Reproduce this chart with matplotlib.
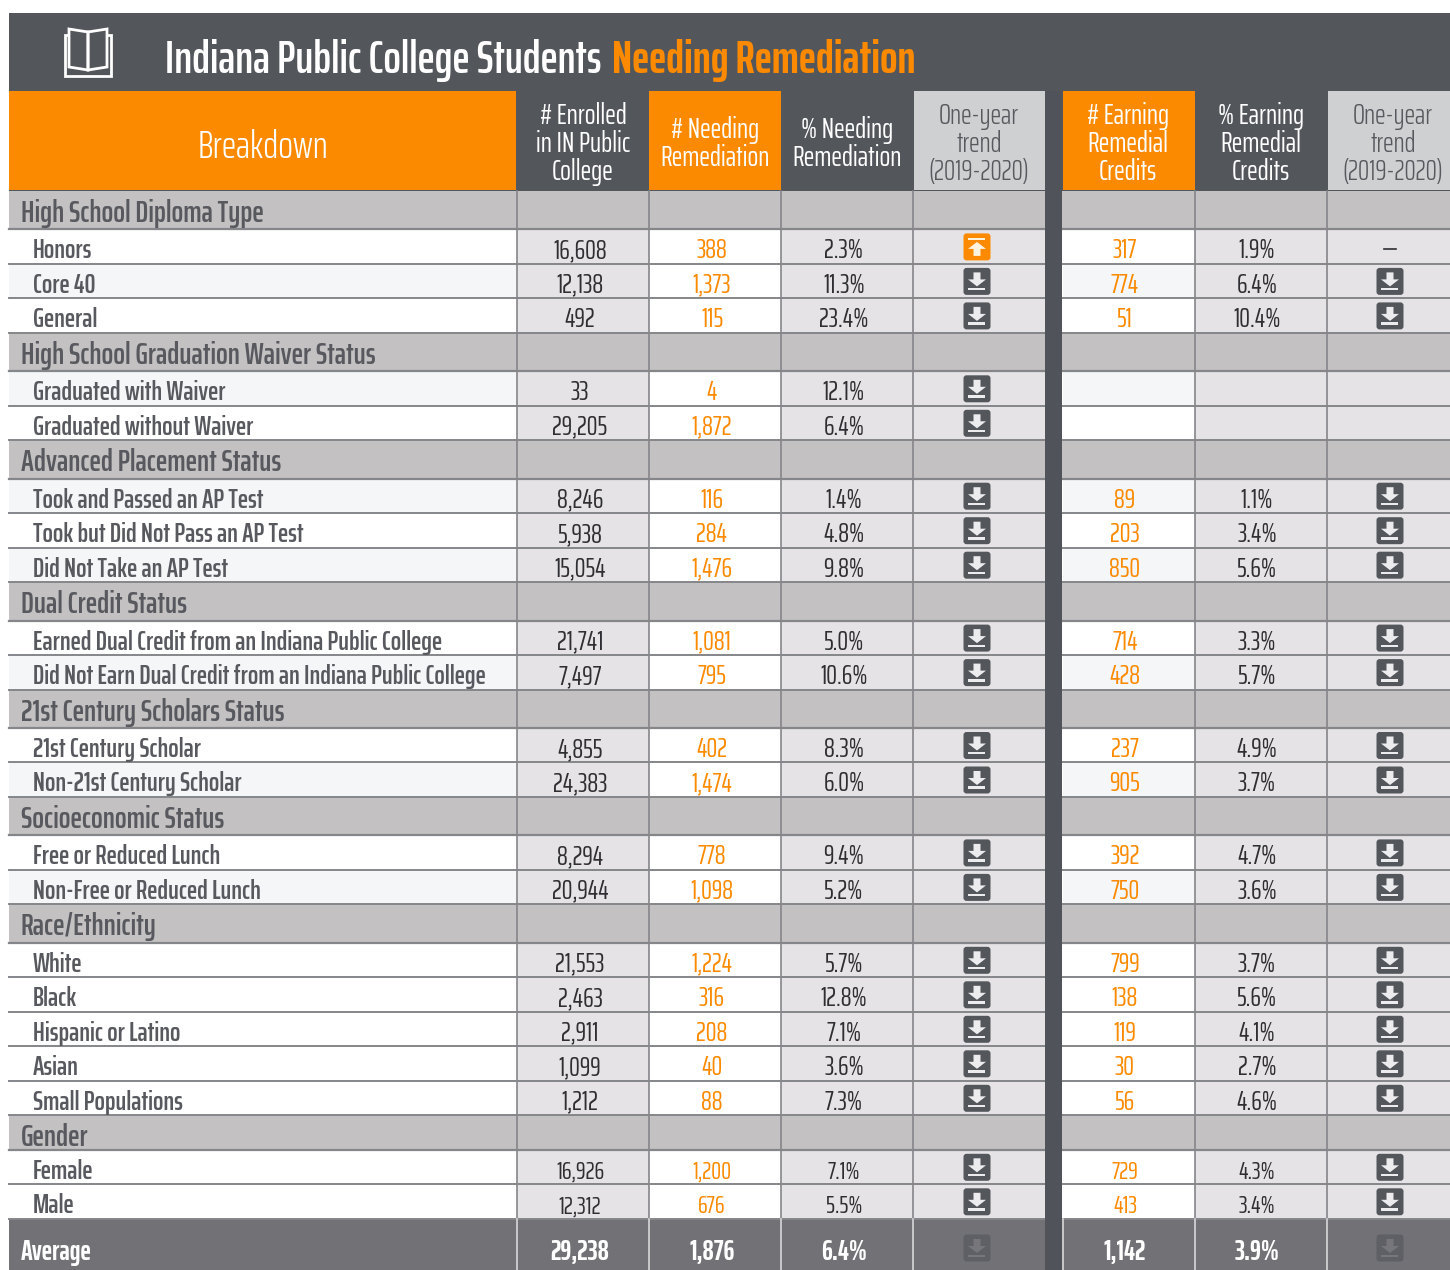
import matplotlib
matplotlib.use("Agg")
import logging
import matplotlib.pyplot as plt
from matplotlib.patches import Rectangle, FancyBboxPatch, Polygon

logging.getLogger("matplotlib.font_manager").setLevel(logging.ERROR)
plt.rcParams["font.family"] = ["Saira ExtraCondensed", "Barlow Condensed", "Liberation Sans Narrow", "Roboto", "DejaVu Sans"]

title_white = "Indiana Public College Students"
title_orange = "Needing Remediation"
columns = ["# Enrolled\nin IN Public\nCollege", "# Needing\nRemediation", "% Needing\nRemediation",
           "One-year\ntrend\n(2019-2020)", "# Earning\nRemedial\nCredits", "% Earning\nRemedial\nCredits",
           "One-year\ntrend\n(2019-2020)"]
groups = ["High School Diploma Type", "High School Graduation Waiver Status", "Advanced Placement Status",
          "Dual Credit Status", "21st Century Scholars Status", "Socioeconomic Status", "Race/Ethnicity", "Gender"]
group_sizes = [3, 2, 3, 2, 2, 2, 5, 2]
labels = ["Honors", "Core 40", "General", "Graduated with Waiver", "Graduated without Waiver",
          "Took and Passed an AP Test", "Took but Did Not Pass an AP Test", "Did Not Take an AP Test",
          "Earned Dual Credit from an Indiana Public College", "Did Not Earn Dual Credit from an Indiana Public College",
          "21st Century Scholar", "Non-21st Century Scholar", "Free or Reduced Lunch", "Non-Free or Reduced Lunch",
          "White", "Black", "Hispanic or Latino", "Asian", "Small Populations", "Female", "Male"]
enrolled = ["16,608", "12,138", "492", "33", "29,205", "8,246", "5,938", "15,054", "21,741", "7,497", "4,855",
            "24,383", "8,294", "20,944", "21,553", "2,463", "2,911", "1,099", "1,212", "16,926", "12,312"]
needing = ["388", "1,373", "115", "4", "1,872", "116", "284", "1,476", "1,081", "795", "402", "1,474", "778",
           "1,098", "1,224", "316", "208", "40", "88", "1,200", "676"]
pct_needing = ["2.3%", "11.3%", "23.4%", "12.1%", "6.4%", "1.4%", "4.8%", "9.8%", "5.0%", "10.6%", "8.3%", "6.0%",
               "9.4%", "5.2%", "5.7%", "12.8%", "7.1%", "3.6%", "7.3%", "7.1%", "5.5%"]
trend_needing = ["up"] + ["down"] * 20
earning = ["317", "774", "51", "", "", "89", "203", "850", "714", "428", "237", "905", "392", "750", "799", "138",
           "119", "30", "56", "729", "413"]
pct_earning = ["1.9%", "6.4%", "10.4%", "", "", "1.1%", "3.4%", "5.6%", "3.3%", "5.7%", "4.9%", "3.7%", "4.7%",
               "3.6%", "3.7%", "5.6%", "4.1%", "2.7%", "4.6%", "4.3%", "3.4%"]
trend_earning = ["flat", "down", "down", "", ""] + ["down"] * 16
average = ["Average", "29,238", "1,876", "6.4%", "down", "1,142", "3.9%", "down"]
tinted_rows = {"Core 40", "Graduated with Waiver", "Took and Passed an AP Test", "Did Not Take an AP Test",
               "Did Not Earn Dual Credit from an Indiana Public College", "Non-21st Century Scholar",
               "Non-Free or Reduced Lunch"}
small_rows = {"Female", "Male"}

ORANGE = "#FB8A00"
DARK = "#53565B"
AVG = "#727176"
GROUP = "#C3C1C2"
CELL = "#E5E3E5"
HEAD_L = "#CFD0D2"
TEXT = "#58595E"
NUM = "#2E2E33"
LINE = "#85868A"

fig = plt.figure(figsize=(14.5, 12.7), dpi=100)
ax = fig.add_axes([0, 0, 1, 1])
ax.set_xlim(0, 1450)
ax.set_ylim(1270, 0)
ax.axis("off")

X = [9, 517, 649, 781, 913, 1045, 1063, 1195, 1327, 1450]
L, R = X[0], X[-1]
col_x = [(X[1], X[2]), (X[2], X[3]), (X[3], X[4]), (X[4], X[5]), (X[6], X[7]), (X[7], X[8]), (X[8], X[9])]
num_cx = [580, 712, 844, 977, 1125, 1257, 1390]
head_cx = [583, 715, 847, 979, 1128, 1261, 1393]
group_heights = [38.4] * 7 + [34.5]
RH = 34.5
FS_LABEL, FS_GROUP, FS_NUM, FS_HEAD = 19.7, 22.2, 19.5, 20.5


def rect(x0, y0, x1, y1, color, z=1):
    ax.add_patch(Rectangle((x0, y0), x1 - x0, y1 - y0, fc=color, ec="none", zorder=z))


def icon(cx, cy, kind, box=DARK, fg="#ECECEE"):
    w, h = 27, 27
    ax.add_patch(FancyBboxPatch((cx - w / 2 + 3, cy - h / 2 + 3), w - 6, h - 6, boxstyle="round,pad=3,rounding_size=3",
                                fc=box, ec="none", zorder=3))
    if kind == "down":
        ax.add_patch(Polygon([(cx - 3.5, cy - 9), (cx + 3.5, cy - 9), (cx + 3.5, cy - 2), (cx + 9, cy - 2),
                              (cx, cy + 5), (cx - 9, cy - 2), (cx - 3.5, cy - 2)], fc=fg, ec="none", zorder=4))
        rect(cx - 8.5, cy + 6.5, cx + 8.5, cy + 9, fg, 4)
    else:
        ax.add_patch(Polygon([(cx - 3.5, cy + 9), (cx + 3.5, cy + 9), (cx + 3.5, cy + 2), (cx + 9, cy + 2),
                              (cx, cy - 5), (cx - 9, cy + 2), (cx - 3.5, cy + 2)], fc=fg, ec="none", zorder=4))
        rect(cx - 8.5, cy - 9, cx + 8.5, cy - 6.5, fg, 4)


# title band
rect(L, 13, R, 91, DARK)
ax.text(165, 73, title_white, color="white", fontsize=33, weight=600, va="baseline", ha="left", zorder=5)
ax.text(612, 73, title_orange, color=ORANGE, fontsize=33, weight=700, va="baseline", ha="left", zorder=5)

# book icon
for xs in [[(69, 29), (88, 32), (88, 70), (69, 67)], [(107, 29), (88, 32), (88, 70), (107, 67)]]:
    ax.add_patch(Polygon(xs, closed=True, fc="none", ec="white", lw=2, zorder=3))
ax.add_patch(Polygon([(69, 35), (65, 35), (65, 76), (111, 76), (111, 35), (107, 35)], closed=False,
                     fc="none", ec="white", lw=2, zorder=3))

# column headers
rect(L, 91, R, 191, DARK)
rect(L, 91, X[1] - 1, 190, ORANGE, 2)
ax.text(263, 158, "Breakdown", color="white", fontsize=28, weight=300, ha="center", va="baseline", zorder=5)
head_bg = [None, ORANGE, None, HEAD_L, ORANGE, None, HEAD_L]
head_fg = ["white", "white", "white", TEXT, "white", "white", TEXT]
for (x0, x1), cx, name, bg, fg in zip(col_x, head_cx, columns, head_bg, head_fg):
    if bg:
        rect(x0 + (0 if bg == ORANGE else 1), 91, x1, 190, bg, 2)
    ax.text(cx, 144, name, color=fg, fontsize=FS_HEAD, weight=400 if fg == "white" else 300, ha="center", va="center",
            linespacing=0.98, zorder=5)

# body
y = 191.0
idx = 0
for g, n, gh in zip(groups, group_sizes, group_heights):
    rect(L, y, R, y + gh, GROUP)
    ax.text(21, y + 31, g, color=TEXT, fontsize=FS_GROUP, weight=600, va="baseline", ha="left", zorder=5)
    ax.plot([L, R], [y + gh, y + gh], color=LINE, lw=1.6, zorder=2)
    for cx0 in X[1:5] + X[7:9]:
        ax.plot([cx0, cx0], [y, y + gh], color=LINE, lw=1.2, zorder=2)
    y += gh
    for _ in range(n):
        tint = "#F5F6F8" if labels[idx] in tinted_rows else "white"
        fs = FS_NUM - 1.5 if labels[idx] in small_rows else FS_NUM
        rect(L, y, X[1], y + RH, tint)
        rect(X[6], y, X[7], y + RH, tint)
        for j in (0, 2, 3, 5, 6):
            rect(col_x[j][0], y, col_x[j][1], y + RH, CELL)
        rect(col_x[1][0], y, col_x[1][1], y + RH, "white")
        base = y + 29
        ax.text(33, base, labels[idx], color=TEXT, fontsize=FS_LABEL, weight=600, va="baseline", ha="left", zorder=5)
        ax.text(num_cx[0], base, enrolled[idx], color=NUM, fontsize=fs, weight=400, ha="center", va="baseline", zorder=5)
        ax.text(num_cx[1], base, needing[idx], color=ORANGE, fontsize=fs, weight=400, ha="center", va="baseline", zorder=5)
        ax.text(num_cx[2], base, pct_needing[idx], color=NUM, fontsize=fs, weight=400, ha="center", va="baseline", zorder=5)
        ax.text(num_cx[4], base, earning[idx], color=ORANGE, fontsize=fs, weight=400, ha="center", va="baseline", zorder=5)
        ax.text(num_cx[5], base, pct_earning[idx], color=NUM, fontsize=fs, weight=400, ha="center", va="baseline", zorder=5)
        ic = y + 17.5
        if trend_needing[idx] == "up":
            icon(num_cx[3], ic, "up", box=ORANGE, fg="#FFF3E0")
        else:
            icon(num_cx[3], ic, "down")
        if trend_earning[idx] == "down":
            icon(num_cx[6], ic, "down")
        elif trend_earning[idx] == "flat":
            ax.plot([num_cx[6] - 6, num_cx[6] + 6], [y + 20, y + 20], color=NUM, lw=1.2, zorder=5)
        ax.plot([L, R], [y + RH, y + RH], color=LINE, lw=1.4, zorder=2)
        for cx0 in X[1:5] + X[7:9]:
            ax.plot([cx0, cx0], [y, y + RH], color=LINE, lw=1.2, zorder=2)
        y += RH
        idx += 1

# average row
rect(L, y, R, 1270, AVG)
ax.text(21, 1260, average[0], color="white", fontsize=20, weight=700, ha="left", va="baseline", zorder=5)
for cx, v in zip(num_cx, average[1:]):
    if v == "down":
        icon(cx, 1248, "down", box="#5E6065", fg="#77777B")
    else:
        ax.text(cx, 1260, v, color="white", fontsize=20, weight=700, ha="center", va="baseline", zorder=5)
for cx0 in X[1:5] + X[7:9] + [X[6]]:
    ax.plot([cx0, cx0], [y, 1270], color="#D8D8DA", lw=1.2, zorder=2)

# dark divider
rect(X[5], 91, X[6] - 1, 1270, "#50535A", 4)

fig.savefig("out.png", dpi=100)
